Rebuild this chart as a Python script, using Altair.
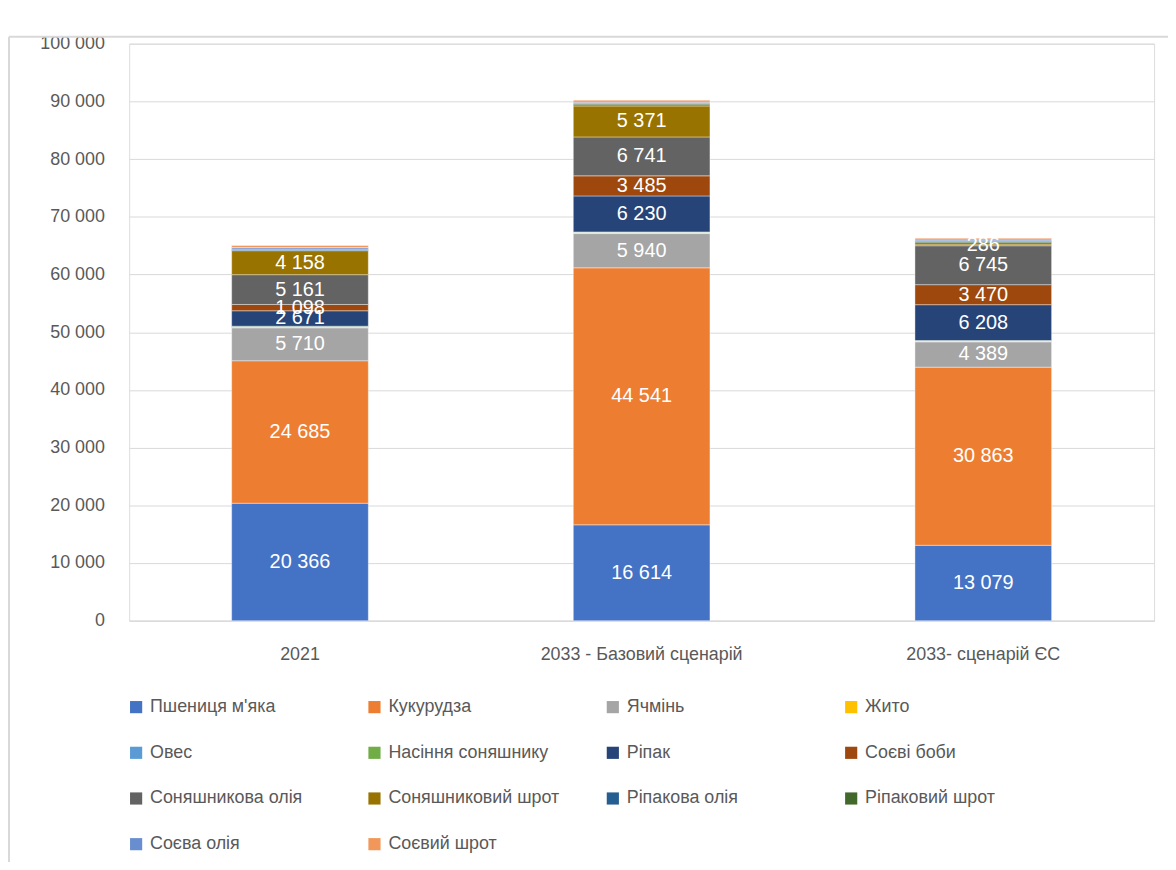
import altair as alt
import pandas as pd

categories = ["2021", "2033 - Базовий сценарій", "2033- сценарій ЄС"]

series_names = [
    "Пшениця м'яка", "Кукурудза", "Ячмінь", "Жито",
    "Овес", "Насіння соняшнику", "Ріпак", "Соєві боби",
    "Соняшникова олія", "Соняшниковий шрот", "Ріпакова олія", "Ріпаковий шрот",
    "Соєва олія", "Соєвий шрот",
]

colors = [
    "#4472C4", "#ED7D31", "#A5A5A5", "#FFC000",
    "#5B9BD5", "#70AD47", "#264478", "#9E480E",
    "#636363", "#997300", "#255E91", "#43682B",
    "#698ED0", "#F1975A",
]

wheat = [20366, 16614, 13079]
corn = [24685, 44541, 30863]
barley = [5710, 5940, 4389]
rye = [120, 150, 100]
oats = [60, 60, 50]
sun_seed = [100, 80, 80]
rapeseed = [2671, 6230, 6208]
soybeans = [1098, 3485, 3470]
sun_oil = [5161, 6741, 6745]
sun_meal = [4158, 5371, 286]
rape_oil = [150, 200, 250]
rape_meal = [150, 200, 250]
soy_oil = [250, 250, 200]
soy_meal = [350, 350, 300]

series_values = [wheat, corn, barley, rye, oats, sun_seed, rapeseed, soybeans,
                 sun_oil, sun_meal, rape_oil, rape_meal, soy_oil, soy_meal]

labeled_series = ["Пшениця м'яка", "Кукурудза", "Ячмінь", "Ріпак", "Соєві боби",
                  "Соняшникова олія", "Соняшниковий шрот"]

rows = []
for si, (name, vals) in enumerate(zip(series_names, series_values)):
    for ci, cat in enumerate(categories):
        rows.append({"cat": cat, "series": name, "ord": si, "value": vals[ci],
                     "show": name in labeled_series})
df = pd.DataFrame(rows)

FONT = "Liberation Sans"
GRID = "#D9D9D9"
TXT = "#595959"

x_enc = alt.X(
    "cat:N", sort=categories, title=None,
    scale=alt.Scale(paddingInner=0.6, paddingOuter=0.3),
    axis=alt.Axis(labelAngle=0, ticks=False, domainColor=GRID, domainWidth=1,
                  labelFontSize=18, labelColor=TXT, labelPadding=25, labelFont=FONT,
                  labelLimit=400),
)

bars = alt.Chart(df).mark_bar(stroke="white", strokeWidth=0.4).encode(
    x=x_enc,
    y=alt.Y(
        "value:Q", stack="zero", title=None,
        scale=alt.Scale(domain=[0, 100000], nice=False),
        axis=alt.Axis(values=list(range(0, 100001, 10000)), grid=True, gridColor=GRID,
                      gridWidth=1, domain=False, ticks=False, labelFontSize=18,
                      labelColor=TXT, labelPadding=25, labelFont=FONT,
                      labelExpr="replace(datum.label, ',', ' ')"),
    ),
    color=alt.Color(
        "series:N",
        scale=alt.Scale(domain=series_names, range=colors),
        legend=alt.Legend(
            title=None, orient="none", legendX=-2, legendY=659, columns=4,
            direction="horizontal",
            symbolType="square", symbolSize=150, symbolStrokeWidth=0,
            labelFontSize=18, labelColor=TXT, labelFont=FONT, labelLimit=400,
            rowPadding=28, columnPadding=44, gridAlign="all", labelOffset=5,
        ),
    ),
    order=alt.Order("ord:Q", sort="ascending"),
)

labels = alt.Chart(df).transform_stack(
    stack="value", groupby=["cat"], sort=[alt.SortField("ord", order="ascending")],
    as_=["y0", "y1"],
).transform_calculate(
    mid="(datum.y0 + datum.y1) / 2",
    lbl="replace(format(datum.value, ',d'), ',', ' ')",
).transform_filter("datum.show").mark_text(
    color="white", fontSize=20, font=FONT, baseline="middle", align="center"
).encode(
    x=alt.X("cat:N", sort=categories),
    y=alt.Y("mid:Q"),
    text="lbl:N",
)

border_df = pd.DataFrame({"k": [0]})
border_left = alt.Chart(border_df).mark_rule(color=GRID, strokeWidth=2, clip=False).encode(
    x=alt.value(-121), y=alt.value(-7), y2=alt.value(830)
)
border_top = alt.Chart(border_df).mark_rule(color=GRID, strokeWidth=2, clip=False).encode(
    x=alt.value(-121), x2=alt.value(1060), y=alt.value(-7)
)

chart = alt.layer(bars, labels, border_left, border_top).properties(
    width=1032, height=581,
    autosize=alt.AutoSizeParams(type="none"),
    padding={"left": 122, "top": 33, "right": 14, "bottom": 240},
).configure_view(stroke=None).configure(font=FONT)

chart.save("out.html", embed_options={"renderer": "svg", "actions": False})
